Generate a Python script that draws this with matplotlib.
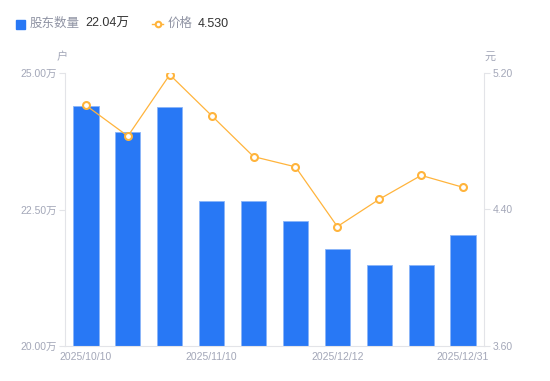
import numpy as np
import matplotlib
matplotlib.use('Agg')
import matplotlib.pyplot as plt
from matplotlib.lines import Line2D
from matplotlib.patches import Rectangle

plt.rcParams['font.family'] = ['Liberation Sans', 'Noto Sans CJK SC', 'DejaVu Sans']

# data
dates = ['2025/10/10', '2025/10/20', '2025/10/31', '2025/11/10', '2025/11/20',
         '2025/11/28', '2025/12/12', '2025/12/19', '2025/12/26', '2025/12/31']
holders = [24.40, 23.92, 24.38, 22.66, 22.66, 22.29, 21.78, 21.48, 21.48, 22.04]  # 万户
price = [5.01, 4.83, 5.19, 4.95, 4.71, 4.65, 4.30, 4.46, 4.60, 4.53]  # 元
shown_labels = ['2025/10/10', '2025/11/10', '2025/12/12', '2025/12/31']

blue = '#2878f5'
orange = '#ffb43c'
grey_txt = '#a3a7b8'
axis_col = '#e3e4e8'

fig = plt.figure(figsize=(5.5, 3.81), dpi=100)
ax = fig.add_axes([65/550, 1-346/381, (484-65)/550, (346-73)/381])
ax2 = ax.twinx()

x = np.arange(len(dates))
ax.bar(x, holders, width=0.6, color=blue, edgecolor='#8ab4f8', linewidth=0.6, zorder=2)
ax.set_ylim(20, 25)
ax.set_xlim(-0.5, len(dates) - 0.5)
ax.set_yticks([20, 22.5, 25])
ax.set_yticklabels(['20.00万', '22.50万', '25.00万'])

ax2.plot(x, price, color=orange, lw=0.9, marker='o', ms=5, mfc='white',
         mec=orange, mew=1.5, zorder=3)
ax2.set_ylim(3.6, 5.2)
ax2.set_yticks([3.6, 4.4, 5.2])
ax2.set_yticklabels(['3.60', '4.40', '5.20'])

tick_pos = [dates.index(d) for d in shown_labels]
ax.set_xticks(tick_pos)
ax.set_xticklabels(shown_labels)

for a in (ax, ax2):
    for s in a.spines.values():
        s.set_visible(False)
    a.tick_params(colors=axis_col, labelcolor=grey_txt, labelsize=7.5, length=4, width=0.8)
ax.spines['left'].set_visible(True)
ax.spines['left'].set_color(axis_col)
ax.spines['bottom'].set_visible(True)
ax.spines['bottom'].set_color(axis_col)
ax2.spines['right'].set_visible(True)
ax2.spines['right'].set_color(axis_col)
ax.tick_params(axis='x', length=0, pad=4)
ax.tick_params(axis='y', pad=2)
ax2.tick_params(axis='y', pad=2)

# unit labels
fig.text(62/550, 1-57/381, '户', color=grey_txt, fontsize=8, ha='center', va='center')
fig.text(490/550, 1-57/381, '元', color=grey_txt, fontsize=8, ha='center', va='center')

# legend
fig.patches.append(Rectangle((16/550, 1-29/381), 9/550, 9/381, transform=fig.transFigure,
                             color=blue, figure=fig))
fig.text(30/550, 1-24/381, '股东数量', color='#8f93a3', fontsize=9, va='center')
fig.text(85/550, 1-24/381, '22.04万', color='#333333', fontsize=9, va='center')
fig.lines.append(Line2D([152/550, 163/550], [1-24/381, 1-24/381], transform=fig.transFigure,
                        color=orange, lw=1, figure=fig))
fig.lines.append(Line2D([157.5/550], [1-24/381], transform=fig.transFigure,
                        color=orange, lw=0, marker='o', ms=4, mfc='white', mec=orange,
                        mew=1.5, figure=fig))
fig.text(168/550, 1-24/381, '价格', color='#8f93a3', fontsize=9, va='center')
fig.text(198/550, 1-24/381, '4.530', color='#333333', fontsize=9, va='center')

fig.savefig('out.png', dpi=100)
